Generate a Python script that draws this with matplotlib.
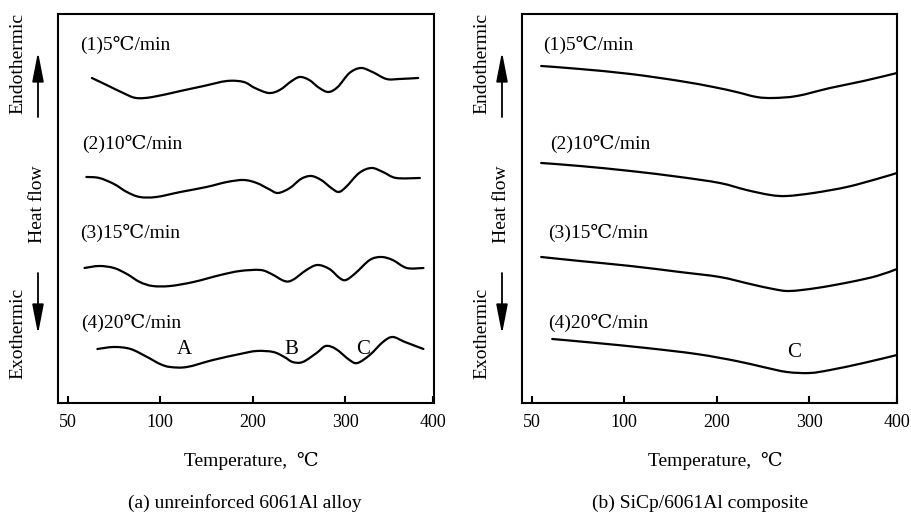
import numpy as np
import matplotlib.pyplot as plt
from matplotlib.patches import FancyArrowPatch, PathPatch
from matplotlib.path import Path

plt.rcParams['font.family'] = ['Liberation Serif', 'DejaVu Serif', 'Noto Sans CJK SC']

# temperature axis of the original is not linear: 50-100 takes the same room as 100-200
TICKS = [50, 100, 200, 300, 400]
TICK_POS = [0, 92, 185, 277, 365]

def fwd(t):
  return np.interp(t, [0] + TICKS + [1000], [-92] + TICK_POS + [893])

def inv(u):
  return np.interp(u, [-92] + TICK_POS + [893], [0] + TICKS + [1000])

RATES = ["(1)5℃/min", "(2)10℃/min", "(3)15℃/min", "(4)20℃/min"]

#(a) unreinforced alloy, heat flow in arbitrary units
a1_t = [63, 71, 80, 87, 96, 122, 147, 172, 190, 202, 217, 229, 242, 251, 261, 272, 282, 292, 305, 318, 331, 347, 362, 383]
a1_hf = [325, 318, 310, 305, 306, 312, 317, 322, 321, 315, 310, 313, 322, 326, 323, 315, 311, 316, 330, 335, 331, 324, 324, 325]
a2_t = [60, 67, 75, 82, 89, 98, 122, 150, 172, 190, 204, 217, 227, 240, 252, 263, 274, 285, 293, 301, 316, 330, 343, 358, 385]
a2_hf = [226, 225, 219, 211, 206, 206, 211, 216, 221, 223, 220, 214, 210, 215, 224, 227, 223, 215, 211, 216, 230, 235, 231, 225, 225]
a3_t = [59, 67, 75, 82, 89, 96, 111, 136, 165, 186, 208, 220, 234, 243, 258, 270, 283, 294, 301, 312, 328, 341, 354, 370, 389]
a3_hf = [135, 137, 135, 129, 121, 117, 117, 121, 128, 132, 133, 129, 122, 123, 133, 138, 134, 125, 123, 130, 143, 146, 143, 135, 135]
a4_t = [66, 75, 84, 93, 100, 111, 129, 157, 186, 204, 222, 234, 243, 254, 269, 279, 290, 305, 314, 328, 343, 354, 368, 389]
a4_hf = [54, 56, 54, 46, 39, 36, 36, 43, 49, 52, 51, 46, 41, 41, 50, 57, 54, 43, 40, 48, 61, 66, 61, 54]

#(b) SiCp composite
b1_t = [55, 76, 107, 160, 196, 221, 243, 261, 287, 324, 362, 400]
b1_hf = [337, 334, 329, 322, 316, 311, 306, 305, 307, 315, 322, 330]
b2_t = [55, 76, 107, 160, 203, 232, 258, 276, 305, 343, 377, 400]
b2_hf = [240, 237, 232, 226, 220, 213, 208, 207, 210, 216, 224, 230]
b3_t = [55, 76, 107, 160, 203, 236, 261, 279, 309, 347, 377, 400]
b3_hf = [146, 142, 137, 131, 126, 119, 114, 112, 115, 121, 127, 134]
b4_t = [61, 85, 124, 178, 221, 250, 276, 301, 324, 362, 400]
b4_hf = [64, 60, 55, 49, 42, 36, 31, 30, 33, 40, 48]

#peak letters
a_peaks = ["A", "B", "C"]
a_peak_t = [126, 242, 320]
b_peaks = ["C"]
b_peak_t = [284]


def smooth_line(ax, t, hf):
  #draws a smooth (catmull-rom style bezier) trace through the read points
  p = ax.transScale.transform(np.column_stack([t, hf]).astype(float))
  pp = np.vstack([p[0], p, p[-1]])
  verts = [p[0]]
  codes = [Path.MOVETO]
  for i in range(len(p) - 1):
    p0, p1, p2, p3 = pp[i], pp[i + 1], pp[i + 2], pp[i + 3]
    verts += [p1 + (p2 - p0) / 6, p2 - (p3 - p1) / 6, p2]
    codes += [Path.CURVE4] * 3
  patch = PathPatch(Path(verts, codes), fill = False, lw = 1.6, ec = 'black',
                    capstyle = 'round', joinstyle = 'round',
                    transform = ax.transLimits + ax.transAxes)
  ax.add_patch(patch)


fig = plt.figure(figsize = (9.12, 5.12), dpi = 100)
ax_a = fig.add_axes([0.0636, 0.2129, 0.4123, 0.7598])
ax_b = fig.add_axes([0.5724, 0.2129, 0.4112, 0.7598])

panels = [
  (ax_a, [(a1_t, a1_hf), (a2_t, a2_hf), (a3_t, a3_hf), (a4_t, a4_hf)],
   [56.5, 57.5, 56.5, 57], 401, "(a) unreinforced 6061Al alloy", 0.497, a_peaks, a_peak_t, 53),
  (ax_b, [(b1_t, b1_hf), (b2_t, b2_hf), (b3_t, b3_hf), (b4_t, b4_hf)],
   [56, 60, 59, 59], 400, "(b) SiCp/6061Al composite", 0.475, b_peaks, b_peak_t, 50),
]
label_y = [358, 259, 170, 80]

for ax, curves, lab_t, xmax, caption, cap_x, peaks, peak_t, peak_y in panels:
  ax.set_xscale('function', functions = (fwd, inv))
  ax.set_xlim(44.6, xmax)
  ax.set_ylim(0, 389)
  for t, hf in curves:
    smooth_line(ax, t, hf)
  for text, x, y in zip(RATES, lab_t, label_y):
    ax.text(x, y, text, fontsize = 14, ha = 'left', va = 'center')
  for p, x in zip(peaks, peak_t):
    ax.text(x, peak_y, p, fontsize = 15, ha = 'center', va = 'center')
  ax.set_xticks(TICKS)
  ax.set_xticklabels([str(t) for t in TICKS])
  ax.xaxis.set_minor_locator(plt.NullLocator())
  ax.set_yticks([])
  ax.tick_params(axis = 'x', direction = 'in', length = 5, width = 1.5, labelsize = 13, pad = 8)
  for s in ax.spines.values():
    s.set_linewidth(1.5)
  ax.set_xlabel("Temperature,  ℃", fontsize = 14)
  ax.xaxis.set_label_coords(0.515, -0.125)
  ax.text(cap_x, -0.257, caption, transform = ax.transAxes, fontsize = 14, ha = 'center', va = 'center')

#heat flow direction labels and arrows, figure coords
for xt, xa in [(18 / 912, 38 / 912), (482 / 912, 502 / 912)]:
  fig.text(xt, 1 - 63 / 512, "Endothermic", rotation = 90, fontsize = 14, ha = 'center', va = 'center')
  fig.text(xa, 1 - 204 / 512, "Heat flow", rotation = 90, fontsize = 14, ha = 'center', va = 'center')
  fig.text(xt, 1 - 333 / 512, "Exothermic", rotation = 90, fontsize = 14, ha = 'center', va = 'center')
  for y0, y1 in [(117, 52), (273, 334)]:
    arr = FancyArrowPatch((xa, 1 - y0 / 512), (xa, 1 - y1 / 512), transform = fig.transFigure,
                          arrowstyle = '-|>,head_length=1.8,head_width=0.35', mutation_scale = 10,
                          color = 'black', lw = 1.3, shrinkA = 0, shrinkB = 0)
    fig.add_artist(arr)

plt.savefig("out.png", dpi = 100)
